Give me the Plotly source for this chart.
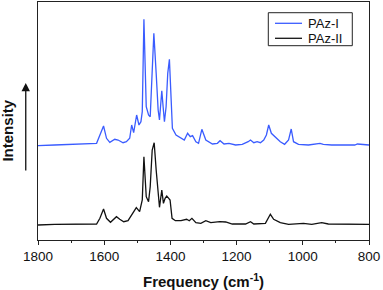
import plotly.graph_objects as go

# PAz-I (blue, offset upper trace)
freq_paz1 = [1800, 1755, 1750, 1623, 1613, 1602, 1593, 1583, 1568, 1558, 1543, 1533, 1523, 1517, 1511,
             1502, 1495, 1489, 1485, 1480, 1473, 1466, 1461, 1456, 1450, 1443, 1437, 1433, 1426, 1422,
             1418, 1413, 1408, 1403, 1398, 1394, 1383, 1368, 1358, 1348, 1340, 1333, 1323, 1315, 1305,
             1293, 1273, 1258, 1250, 1238, 1223, 1203, 1183, 1165, 1158, 1148, 1138, 1128, 1118, 1110,
             1103, 1095, 1083, 1068, 1055, 1043, 1035, 1028, 1013, 983, 948, 938, 913, 843, 835, 806, 800]
int_paz1 = [93.3, 93.3, 94.0, 95.7, 104.0, 113.0, 100.7, 96.7, 99.7, 99.0, 96.3, 97.3, 100.7, 114.0, 106.3,
            124.0, 114.0, 117.3, 127.3, 219.7, 132.3, 124.0, 122.3, 155.7, 205.7, 165.7, 129.0, 119.0, 148.3, 132.3,
            117.3, 132.3, 165.7, 179.7, 145.7, 110.7, 104.0, 100.7, 99.0, 105.7, 102.3, 103.3, 97.3, 95.7, 109.7,
            99.0, 95.0, 95.7, 98.3, 95.0, 95.7, 94.0, 94.7, 97.3, 99.0, 96.3, 97.3, 96.3, 99.0, 104.0,
            114.0, 105.7, 102.3, 97.3, 94.7, 99.0, 110.0, 97.3, 94.7, 94.0, 95.7, 94.7, 94.0, 94.0, 95.0, 94.0, 94.0]

# PAz-II (black, lower trace)
freq_paz2 = [1800, 1755, 1750, 1623, 1613, 1602, 1593, 1581, 1563, 1553, 1541, 1528, 1515, 1503, 1493,
             1485, 1480, 1473, 1466, 1461, 1455, 1449, 1443, 1438, 1433, 1426, 1421, 1416, 1411, 1405,
             1401, 1395, 1385, 1368, 1351, 1343, 1335, 1323, 1308, 1293, 1278, 1251, 1233, 1213, 1173,
             1158, 1148, 1113, 1098, 1088, 1068, 1043, 998, 973, 943, 923, 800]
int_paz2 = [14.0, 14.0, 14.7, 15.0, 20.7, 30.0, 20.7, 16.7, 22.3, 19.7, 17.3, 18.3, 25.7, 31.3, 27.3,
            39.0, 82.3, 42.3, 37.3, 52.3, 89.0, 96.3, 69.0, 45.7, 31.7, 49.0, 35.7, 40.7, 43.0, 40.7,
            39.0, 20.7, 18.3, 18.3, 19.7, 18.3, 20.7, 16.3, 15.7, 18.3, 16.3, 17.3, 17.0, 15.0, 15.0,
            17.3, 15.0, 15.7, 24.7, 19.7, 16.3, 14.7, 15.7, 14.7, 16.3, 15.0, 14.7]

series_names = ["PAz-I", "PAz-II"]
x_ticks = [1800, 1600, 1400, 1200, 1000, 800]

FONT = "Liberation Sans, Arial, sans-serif"
COLORS = ["#3a5cff", "#111111"]

fig = go.Figure()
fig.add_trace(go.Scatter(x=freq_paz1, y=int_paz1, mode="lines", name=series_names[0],
                         line=dict(color=COLORS[0], width=1.3), showlegend=False))
fig.add_trace(go.Scatter(x=freq_paz2, y=int_paz2, mode="lines", name=series_names[1],
                         line=dict(color=COLORS[1], width=1.3), showlegend=False))

# legend box drawn in paper coordinates
shapes = [dict(type="rect", xref="paper", yref="paper", x0=0.6958, x1=0.9495, y0=0.8164, y1=0.955,
               line=dict(color="#222222", width=1), fillcolor="white", layer="above")]
annotations = []
for i, (name, yy) in enumerate(zip(series_names, [0.9105, 0.8475])):
    shapes.append(dict(type="line", xref="paper", yref="paper", x0=0.716, x1=0.7976, y0=yy, y1=yy,
                       line=dict(color=COLORS[i], width=1.3), layer="above"))
    annotations.append(dict(text=name, x=0.8097, y=yy, xref="paper", yref="paper", showarrow=False,
                            xanchor="left", yanchor="middle",
                            font=dict(family=FONT, size=13, color="#111111")))

annotations += [
    dict(text="<b>Intensity</b>", x=-0.092, y=0.458, xref="paper", yref="paper",
         showarrow=False, textangle=-90, xanchor="center", yanchor="middle",
         font=dict(family=FONT, size=15, color="#111111")),
    dict(text="", x=-0.037, y=0.660, xref="paper", yref="paper",
         showarrow=True, ax=0, ay=89, arrowhead=2, arrowsize=1.3, arrowwidth=1.3,
         arrowcolor="#111111"),
]

fig.update_layout(
    width=383, height=290,
    margin=dict(l=38, r=14, t=2, b=50, autoexpand=False),
    paper_bgcolor="white", plot_bgcolor="white",
    font=dict(family=FONT, size=13, color="#111111"),
    showlegend=False,
    xaxis=dict(range=[1800, 800], tickvals=x_ticks, ticks="outside", ticklen=4, tickwidth=1,
               tickcolor="#222222", showline=True, linecolor="#222222", linewidth=1,
               mirror=True, showgrid=False, zeroline=False, automargin=False,
               minor=dict(dtick=100, ticks="outside", ticklen=2, tickcolor="#222222", showgrid=False),
               tickfont=dict(family=FONT, size=13.5, color="#111111"),
               title=dict(text="<b>Frequency (cm<sup>-1</sup>)</b>",
                          font=dict(family=FONT, size=15, color="#111111"))),
    yaxis=dict(range=[-1, 237], showticklabels=False, ticks="", showline=True, automargin=False,
               linecolor="#222222", linewidth=1, mirror=True, showgrid=False, zeroline=False),
    shapes=shapes,
    annotations=annotations,
)

fig.write_html("out.html", config={"displayModeBar": False},
               post_script="document.body.style.margin='0';document.body.style.overflow='hidden';")
